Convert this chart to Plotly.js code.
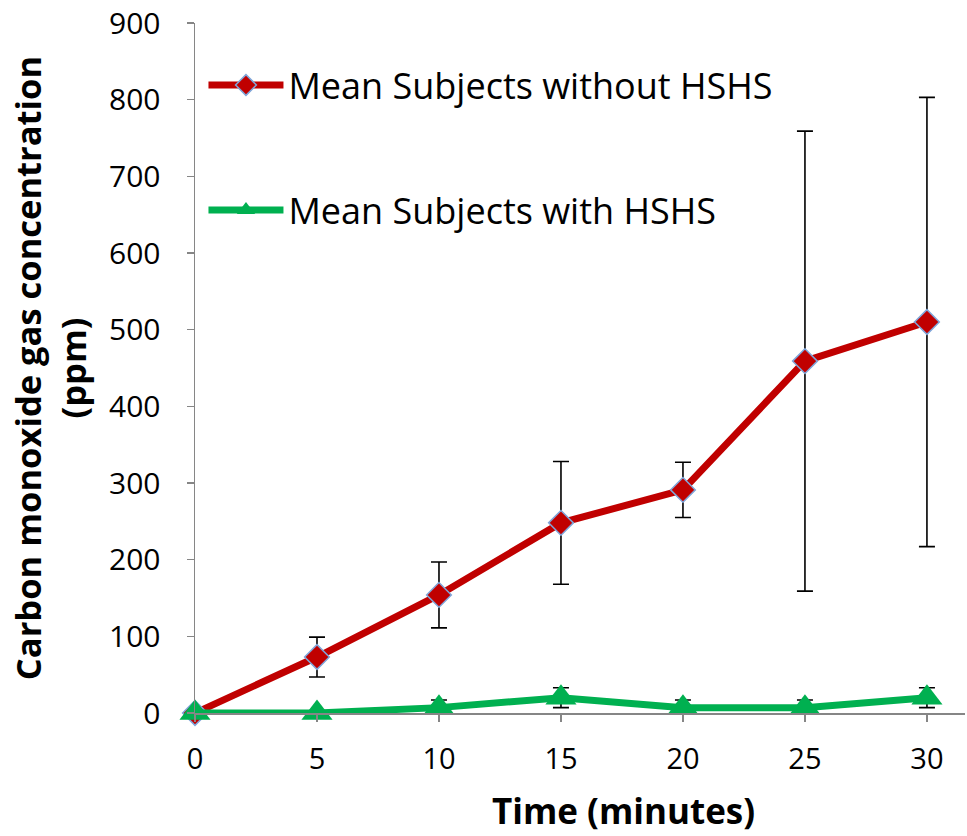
<!DOCTYPE html>
<html>
<head>
<meta charset="utf-8">
<script src="https://cdn.plot.ly/plotly-3.0.1.min.js"></script>
<style>html,body{margin:0;padding:0;background:#fff;}#chart{width:967px;height:836px;}</style>
</head>
<body>
<div id="chart"></div>
<script>
const time = [0, 5, 10, 15, 20, 25, 30];
const withoutHSHS = [0, 73, 154, 248, 291, 459, 510];
const withoutHSHSErr = [0, 26, 43, 80, 36, 300, 293];
const withHSHS = [0, 0, 7, 20, 7, 7, 20];
const withHSHSErr = [0, 0, 10, 13, 10, 10, 13];
const yTicks = [0, 100, 200, 300, 400, 500, 600, 700, 800, 900];
const xTicks = [0, 5, 10, 15, 20, 25, 30];
const names = ['Mean Subjects without HSHS', 'Mean Subjects with HSHS'];
const xTitle = 'Time (minutes)';
const yTitle = 'Carbon monoxide gas concentration<br>(ppm)';

const font = '"Open Sans", sans-serif';

const traces = [
  {
    x: time, y: withoutHSHS, name: names[0], type: 'scatter', mode: 'lines+markers',
    line: {color: '#C00000', width: 7},
    marker: {symbol: 'diamond', size: 19, color: '#C00000', line: {color: '#7FA5D9', width: 1.5}},
    error_y: {type: 'data', array: withoutHSHSErr, visible: true, color: '#000', thickness: 1.6, width: 8},
    cliponaxis: false, legend: 'legend'
  },
  {
    x: time, y: withHSHS, name: names[1], type: 'scatter', mode: 'lines+markers',
    line: {color: '#00B050', width: 7},
    marker: {symbol: 'triangle-up', size: 27, color: '#00B050'},
    error_y: {type: 'data', array: withHSHSErr, visible: true, color: '#000', thickness: 1.6, width: 8},
    cliponaxis: false, legend: 'legend2'
  }
];

const layout = {
  width: 967, height: 836,
  margin: {l: 195, r: 2, t: 23, b: 123},
  paper_bgcolor: '#fff', plot_bgcolor: '#fff',
  font: {family: font, color: '#000', size: 22},
  showlegend: true,
  xaxis: {
    range: [0, 31.56], tickvals: xTicks, ticktext: xTicks.map(String),
    showgrid: false, zeroline: false, showline: true, linecolor: '#868686', linewidth: 1.5,
    ticks: 'outside', ticklen: 7, tickcolor: '#868686', tickwidth: 1.5,
    ticklabelstandoff: 13,
    tickfont: {size: 29, family: font}
  },
  yaxis: {
    range: [0, 900], tickvals: yTicks, ticktext: yTicks.map(String),
    showgrid: false, zeroline: false, showline: true, linecolor: '#868686', linewidth: 1.5,
    ticks: 'outside', ticklen: 7, tickcolor: '#868686', tickwidth: 1.5,
    ticklabelstandoff: 20,
    tickfont: {size: 30, family: font},
    title: {text: '<b>' + yTitle + '</b>', font: {size: 34.5, family: font}, standoff: 12}
  },
  annotations: [
    {
      text: '<b>' + xTitle + '</b>', xref: 'paper', yref: 'paper',
      x: 0.556, y: -0.142, xanchor: 'center', yanchor: 'middle', showarrow: false,
      font: {size: 35, family: font, color: '#000'}
    }
  ],
  legend: {
    x: 0.011, y: 0.91, xanchor: 'left', yanchor: 'middle', bgcolor: 'rgba(0,0,0,0)',
    font: {size: 36, family: font}, itemwidth: 75
  },
  legend2: {
    x: 0.011, y: 0.729, xanchor: 'left', yanchor: 'middle', bgcolor: 'rgba(0,0,0,0)',
    font: {size: 36, family: font}, itemwidth: 75
  }
};

Plotly.newPlot('chart', traces, layout, {displayModeBar: false, staticPlot: true});
</script>
</body>
</html>
